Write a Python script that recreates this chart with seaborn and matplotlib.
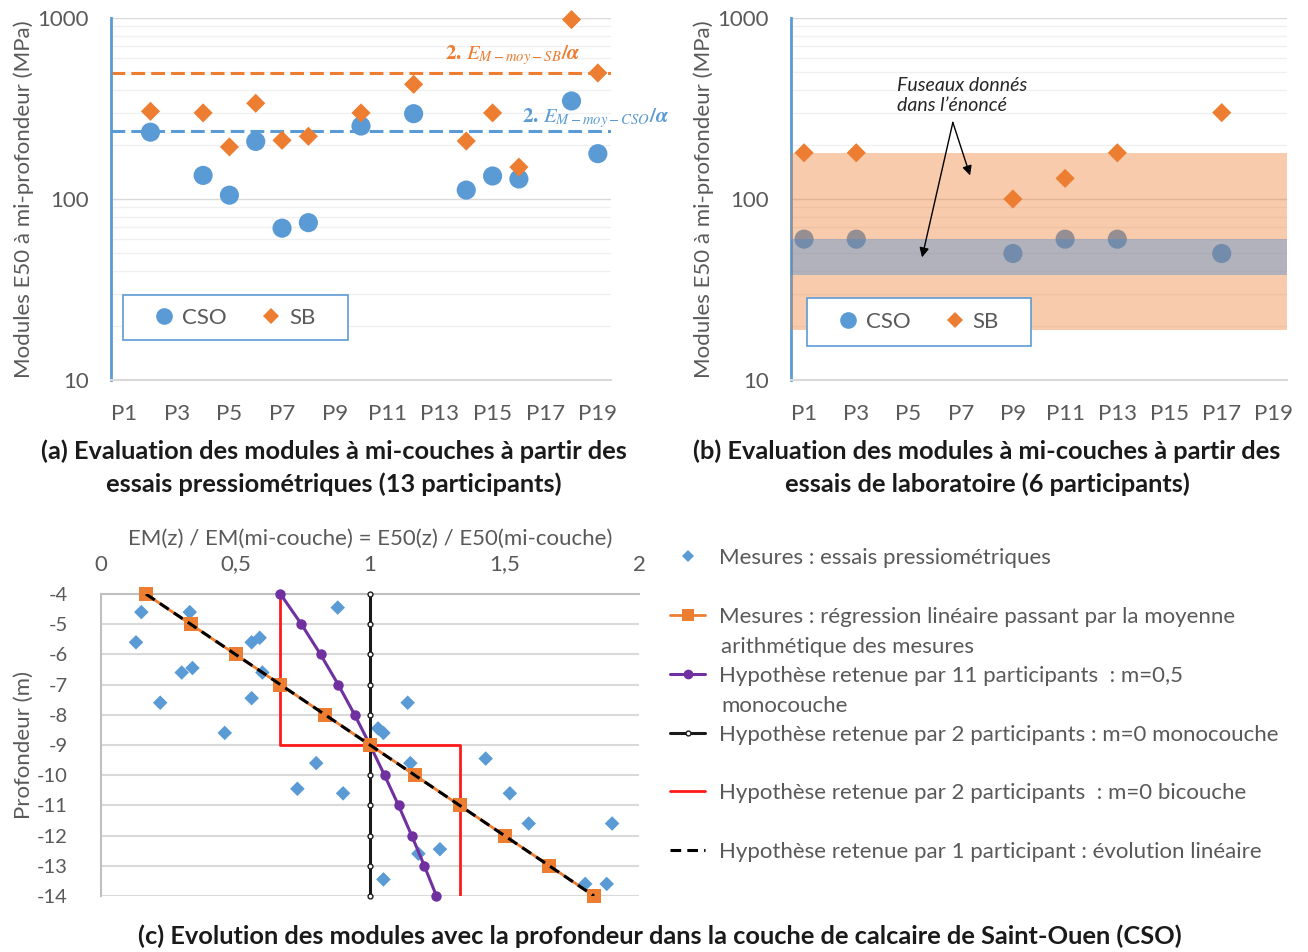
import numpy as np
import pandas as pd
import matplotlib
matplotlib.use("Agg")
import matplotlib.pyplot as plt
import seaborn as sns
from matplotlib.lines import Line2D
from matplotlib.patches import Rectangle
from matplotlib.ticker import LogLocator, FixedLocator, NullFormatter

# ---------------- data ----------------
# Panel (a): pressiometric evaluation
a_cso_part = [2, 4, 5, 6, 7, 8, 10, 12, 14, 15, 16, 18, 19]
a_cso_val = [234, 135, 105, 208, 69, 74, 253, 296, 112, 134, 129, 348, 178]
a_sb_part = [2, 4, 5, 6, 7, 8, 10, 12, 14, 15, 16, 18, 19]
a_sb_val = [305, 299, 194, 338, 211, 222, 299, 430, 209, 299, 150, 980, 497]
a_ref_sb = 495
a_ref_cso = 237

# Panel (b): laboratory evaluation
b_part = [1, 3, 9, 11, 13, 17]
b_cso_val = [60, 60, 50, 60, 60, 50]
b_sb_val = [180, 180, 100, 130, 180, 300]
band_sb_upper = (60, 180)
band_sb_lower = (19, 38)
band_cso = (38, 60)

p_ticks = list(range(1, 20, 2))
p_labels = ["P%d" % i for i in p_ticks]

# Panel (c): modulus vs depth
depth = [-4, -5, -6, -7, -8, -9, -10, -11, -12, -13, -14]
regression = [0.167, 0.333, 0.5, 0.667, 0.833, 1.0, 1.167, 1.333, 1.5, 1.667, 1.833]
m05 = [0.667, 0.745, 0.816, 0.882, 0.943, 1.0, 1.054, 1.106, 1.155, 1.202, 1.247]
m0 = [1.0] * 11
bic_x = [0.667, 0.667, 1.333, 1.333]
bic_z = [-4, -9, -9, -14]
lin_x = [0.167, 1.833]
lin_z = [-4, -14]
mes_x = [0.15, 0.33, 0.88, 0.13, 0.56, 0.59, 0.30, 0.34, 0.60, 0.22, 0.56, 1.14,
         0.46, 1.03, 1.05, 0.80, 1.15, 1.43, 0.73, 0.90, 1.52, 1.59, 1.90,
         1.26, 1.18, 1.05, 1.80, 1.88]
mes_z = [-4.6, -4.6, -4.45, -5.6, -5.6, -5.45, -6.6, -6.45, -6.6, -7.6, -7.45, -7.6,
         -8.6, -8.45, -8.6, -9.6, -9.6, -9.45, -10.45, -10.6, -10.6, -11.6, -11.6,
         -12.45, -12.6, -13.45, -13.6, -13.6]
c_xticks = [0, 0.5, 1, 1.5, 2]
c_xticklabels = ["0", "0,5", "1", "1,5", "2"]

# ---------------- style ----------------
sns.set_theme(style="white")
plt.rcParams['font.family'] = ['Lato', 'DejaVu Sans']
plt.rcParams['mathtext.fontset'] = 'stix'

BLUE = '#5b9bd5'
ORANGE = '#ed7d31'
PURPLE = '#7030a0'
RED = '#ff1a1a'
GRAY_TXT = '#595959'
W, H = 1308, 952

fig = plt.figure(figsize=(W / 100, H / 100), dpi=100)


def fbox(l, t, r, b):
    return [l / W, 1 - b / H, (r - l) / W, (b - t) / H]


TICK_FS = 16
LAB_FS = 16


def style_log_axes(ax):
    ax.set_yscale('log')
    ax.set_ylim(10, 1000)
    ax.set_xlim(0.5, 19.5)
    ax.yaxis.set_major_locator(FixedLocator([10, 100, 1000]))
    ax.set_yticklabels(["10", "100", "1000"])
    ax.yaxis.set_minor_locator(LogLocator(base=10, subs=np.arange(2, 10)))
    ax.yaxis.set_minor_formatter(NullFormatter())
    ax.set_xticks(p_ticks)
    ax.set_xticklabels(p_labels)
    ax.grid(True, which='major', axis='y', color='#d9d9d9', lw=1.0, zorder=0)
    ax.grid(True, which='minor', axis='y', color='#f0f0f0', lw=1.0, zorder=0)
    ax.grid(False, axis='x')
    ax.set_axisbelow(True)
    for s in ['top', 'right']:
        ax.spines[s].set_visible(False)
    ax.spines['left'].set_color(BLUE)
    ax.spines['left'].set_linewidth(2)
    ax.spines['bottom'].set_color('#d9d9d9')
    ax.spines['bottom'].set_linewidth(1.5)
    ax.tick_params(axis='both', which='both', length=0, labelsize=TICK_FS, colors=GRAY_TXT)
    ax.tick_params(axis='y', pad=16)
    ax.tick_params(axis='x', pad=17)
    ax.set_xlabel('')
    ax.set_ylabel('Modules E50 à mi-profondeur (MPa)', fontsize=LAB_FS, color=GRAY_TXT, labelpad=2)


def box_legend(ax, x0, y0, w, h):
    ax.add_patch(Rectangle((x0, y0), w, h, transform=ax.transAxes, facecolor='white',
                           edgecolor=BLUE, lw=1.2, zorder=8, clip_on=False))
    handles = [Line2D([], [], marker='o', color=BLUE, ls='none', markersize=12, markeredgewidth=0),
               Line2D([], [], marker='D', color=ORANGE, ls='none', markersize=8.5, markeredgewidth=0)]
    leg = ax.legend(handles, ['CSO', 'SB'], loc='center', bbox_to_anchor=(x0 + w / 2, y0 + h / 2),
                    ncol=2, frameon=False, fontsize=TICK_FS, handlelength=0.8, handletextpad=0.4,
                    columnspacing=1.6, borderaxespad=0, borderpad=0)
    for t in leg.get_texts():
        t.set_color(GRAY_TXT)
    leg.set_zorder(9)


# ---------------- panel (a) ----------------
axa = fig.add_axes(fbox(111, 18, 611, 380))
df_a_cso = pd.DataFrame({'p': a_cso_part, 'v': a_cso_val})
df_a_sb = pd.DataFrame({'p': a_sb_part, 'v': a_sb_val})
sns.scatterplot(data=df_a_cso, x='p', y='v', ax=axa, marker='o', s=190, color=BLUE,
                edgecolor='none', zorder=3, legend=False, clip_on=False)
sns.scatterplot(data=df_a_sb, x='p', y='v', ax=axa, marker='D', s=95, color=ORANGE,
                edgecolor='none', zorder=3, legend=False, clip_on=False)
axa.axhline(a_ref_sb, color=ORANGE, lw=2.2, dashes=(4.5, 2), zorder=2)
axa.axhline(a_ref_cso, color=BLUE, lw=2.2, dashes=(4.5, 2), zorder=2)
style_log_axes(axa)
axa.text(13.2, 622, r'$\mathbf{2.}\,\boldsymbol{E_{M-moy-SB}/\alpha}$', color=ORANGE,
         fontsize=15, ha='left', va='center', clip_on=False)
axa.text(16.13, 279, r'$\mathbf{2.}\,\boldsymbol{E_{M-moy-CSO}/\alpha}$', color=BLUE,
         fontsize=15, ha='left', va='center', clip_on=False)
box_legend(axa, 0.024, 0.110, 0.45, 0.124)

# ---------------- panel (b) ----------------
axb = fig.add_axes(fbox(791, 18, 1287, 380))
df_b = pd.DataFrame({'p': b_part, 'cso': b_cso_val, 'sb': b_sb_val})
sns.scatterplot(data=df_b, x='p', y='cso', ax=axb, marker='o', s=190, color=BLUE,
                edgecolor='none', zorder=3, legend=False)
sns.scatterplot(data=df_b, x='p', y='sb', ax=axb, marker='D', s=95, color=ORANGE,
                edgecolor='none', zorder=3, legend=False)
axb.axhspan(*band_sb_upper, color=ORANGE, alpha=0.4, lw=0, zorder=4)
axb.axhspan(*band_sb_lower, color=ORANGE, alpha=0.4, lw=0, zorder=4)
axb.axhspan(*band_cso, color='#838393', alpha=0.62, lw=0, zorder=4)
style_log_axes(axb)
axb.text(4.56, 374, "Fuseaux donnés\ndans l\u2019énoncé", fontsize=14, style='italic',
         color='#262626', ha='left', va='center', linespacing=1.2, zorder=6)
arrow_kw = dict(arrowstyle='-|>', color='black', lw=1, mutation_scale=14, shrinkA=0, shrinkB=0)
axb.annotate('', xy=(7.36, 135), xytext=(6.7, 265), arrowprops=arrow_kw, zorder=6)
axb.annotate('', xy=(5.52, 47.6), xytext=(6.7, 265), arrowprops=arrow_kw, zorder=6)
box_legend(axb, 0.032, 0.094, 0.452, 0.132)

# ---------------- panel (c) ----------------
axc = fig.add_axes(fbox(101, 594, 639, 896))
df_mes = pd.DataFrame({'x': mes_x, 'z': mes_z})
sns.scatterplot(data=df_mes, x='x', y='z', ax=axc, marker='D', s=55, color=BLUE,
                edgecolor='none', zorder=3, legend=False, clip_on=False)
sns.lineplot(x=bic_x, y=bic_z, ax=axc, sort=False, estimator=None, color=RED, lw=2, zorder=4)
sns.lineplot(x=m05, y=depth, ax=axc, sort=False, estimator=None, color=PURPLE, lw=2.2,
             marker='o', markersize=7.5, markeredgewidth=0, zorder=5, clip_on=False)
sns.lineplot(x=m0, y=depth, ax=axc, sort=False, estimator=None, color='#1a1a1a', lw=2.2,
             marker='o', markersize=3.5, markerfacecolor='white', markeredgecolor='#1a1a1a',
             markeredgewidth=1, zorder=5, clip_on=False)
sns.lineplot(x=regression, y=depth, ax=axc, sort=False, estimator=None, color=ORANGE, lw=2,
             marker='s', markersize=10, markeredgewidth=0, zorder=6, clip_on=False)
sns.lineplot(x=lin_x, y=lin_z, ax=axc, sort=False, estimator=None, color='black', lw=2.2,
             zorder=7).lines[-1].set_dashes((3.5, 2))
axc.set_xlim(0, 2)
axc.set_ylim(-14, -4)
axc.xaxis.tick_top()
axc.xaxis.set_label_position('top')
axc.set_xticks(c_xticks)
axc.set_xticklabels(c_xticklabels)
axc.set_yticks(depth)
axc.set_yticklabels([str(d) for d in depth])
axc.grid(True, axis='y', color='#d9d9d9', lw=1.5, zorder=0)
axc.grid(False, axis='x')
axc.set_axisbelow(True)
for s in ['right', 'bottom']:
    axc.spines[s].set_visible(False)
for s in ['left', 'top']:
    axc.spines[s].set_color('#bfbfbf')
    axc.spines[s].set_linewidth(1.5)
axc.tick_params(axis='both', length=0, labelsize=TICK_FS, colors=GRAY_TXT)
axc.tick_params(axis='y', pad=24, labelsize=14.5)
axc.tick_params(axis='x', pad=14)
axc.set_xlabel('EM(z) / EM(mi-couche) = E50(z) / E50(mi-couche)', fontsize=LAB_FS,
               color=GRAY_TXT, labelpad=7)
axc.set_ylabel('Profondeur (m)', fontsize=LAB_FS, color=GRAY_TXT, labelpad=2)

# legend for (c)
LEG_FS = 16
leg_entries = [
    (Line2D([], [], marker='D', color=BLUE, ls='none', markersize=6, markeredgewidth=0),
     'Mesures : essais pressiométriques', None, 558),
    (Line2D([], [], marker='s', color=ORANGE, lw=2, markersize=9, markeredgewidth=0),
     'Mesures : régression linéaire passant par la moyenne', 'arithmétique des mesures', 617),
    (Line2D([], [], marker='o', color=PURPLE, lw=2.2, markersize=7, markeredgewidth=0),
     'Hypothèse retenue par 11 participants  : m=0,5', 'monocouche', 676),
    (Line2D([], [], marker='o', color='#1a1a1a', lw=2.2, markersize=3.5, markerfacecolor='white',
            markeredgewidth=1),
     'Hypothèse retenue par 2 participants : m=0 monocouche', None, 735),
    (Line2D([], [], color=RED, lw=2),
     'Hypothèse retenue par 2 participants  : m=0 bicouche', None, 793),
    (Line2D([], [], color='black', lw=2.2, dashes=(3.5, 2)),
     'Hypothèse retenue par 1 participant : évolution linéaire', None, 852),
]
fs_px = LEG_FS * 100 / 72
for h, l1, l2, y in leg_entries:
    lg = fig.legend([h], [l1], loc='center left', bbox_to_anchor=(670 / W, 1 - y / H),
                    frameon=False, fontsize=LEG_FS, handlelength=35 / fs_px,
                    handletextpad=14 / fs_px, borderpad=0, borderaxespad=0)
    for t in lg.get_texts():
        t.set_color(GRAY_TXT)
    if l2:
        fig.text(721 / W, 1 - (y + 30) / H, l2, fontsize=LEG_FS, color=GRAY_TXT,
                 ha='left', va='center')

# ---------------- titles ----------------
TFS = 18.3
fig.text(334 / W, 1 - 451 / H, "(a) Evaluation des modules à mi-couches à partir des",
         fontsize=TFS, fontweight='bold', ha='center', va='center', color='#1a1a1a')
fig.text(334 / W, 1 - 484 / H, "essais pressiométriques (13 participants)",
         fontsize=TFS, fontweight='bold', ha='center', va='center', color='#1a1a1a')
fig.text(987 / W, 1 - 451 / H, "(b) Evaluation des modules à mi-couches à partir des",
         fontsize=TFS, fontweight='bold', ha='center', va='center', color='#1a1a1a')
fig.text(987 / W, 1 - 484 / H, "essais de laboratoire (6 participants)",
         fontsize=TFS, fontweight='bold', ha='center', va='center', color='#1a1a1a')
fig.text(660 / W, 1 - 936 / H,
         "(c) Evolution des modules avec la profondeur dans la couche de calcaire de Saint-Ouen (CSO)",
         fontsize=TFS, fontweight='bold', ha='center', va='center', color='#1a1a1a')

fig.savefig('out.png', dpi=100, facecolor='white')
